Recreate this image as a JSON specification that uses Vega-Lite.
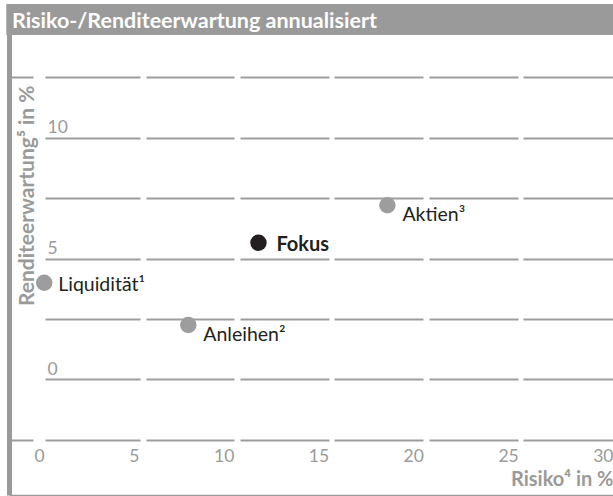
{
  "$schema": "https://vega.github.io/schema/vega-lite/v6.json",
  "width": 604,
  "height": 491,
  "padding": {"left": 9, "top": 4, "right": 0, "bottom": 1},
  "autosize": {"type": "none"},
  "background": "white",
  "config": {"view": {"stroke": null}, "font": "Lato"},
  "data": {"values": [
    {"name": "Liquidität¹", "risk": 0, "ret": 4.0, "group": "Anlageklasse"},
    {"name": "Anleihen²", "risk": 7.6, "ret": 2.25, "group": "Anlageklasse"},
    {"name": "Fokus", "risk": 11.3, "ret": 5.65, "group": "Portfolio"},
    {"name": "Aktien³", "risk": 18.1, "ret": 7.2, "group": "Anlageklasse"}
  ]},
  "layer": [
    {
      "mark": {"type": "circle", "size": 270, "opacity": 1},
      "encoding": {
        "x": {
          "field": "risk", "type": "quantitative",
          "scale": {"domain": [-1.857, 30], "nice": false, "zero": false},
          "axis": {
            "title": "Risiko⁴ in %",
            "values": [0, 5, 10, 15, 20, 25, 30],
            "format": "d",
            "grid": false, "ticks": false,
            "domainColor": "#9a9a9a", "domainWidth": 1.5,
            "labelColor": "#9a9a9a", "labelFontSize": 17.5, "labelFont": "Lato",
            "labelAlign": "right", "labelBaseline": "alphabetic", "labelPadding": -34,
            "labelFlush": false, "labelOverlap": false, "labelBound": false,
            "titleColor": "#9a9a9a", "titleFontSize": 20, "titleFontWeight": "bold", "titleFont": "Lato",
            "titleAnchor": "end", "titleAlign": "right", "titleBaseline": "alphabetic",
            "titleX": 604, "titleY": -10
          }
        },
        "y": {
          "field": "ret", "type": "quantitative",
          "scale": {"domain": [-4.773, 15.517], "nice": false, "zero": false},
          "axis": {
            "title": "Renditeerwartung⁵ in %",
            "values": [-2.5, 0, 2.5, 5, 7.5, 10, 12.5],
            "ticks": false, "grid": true,
            "gridColor": "#9d9d9d", "gridWidth": 2,
            "gridDash": {"condition": {"test": "datum.value == 12.5 || datum.value == -2.5", "value": [24, 12, 95, 6, 88, 6, 89, 5, 89, 6, 89, 5, 200, 0]}, "value": [0, 36, 95, 6, 88, 6, 89, 5, 89, 6, 89, 5, 200, 0]},
            "domainColor": "#9a9a9a", "domainWidth": 5,
            "labelExpr": "datum.value == 0 || datum.value == 5 || datum.value == 10 ? format(datum.value, 'd') : ''",
            "labelAlign": "left", "labelBaseline": "alphabetic", "labelPadding": -38, "labelOffset": -5,
            "labelColor": "#9a9a9a", "labelFontSize": 17.5, "labelFont": "Lato",
            "labelOverlap": false, "labelBound": false, "labelFlush": false,
            "titleColor": "#9a9a9a", "titleFontSize": 21, "titleFontWeight": "bold", "titleFont": "Lato",
            "titleAngle": 270, "titleAlign": "right", "titleBaseline": "alphabetic",
            "titleX": 24, "titleY": 81
          }
        },
        "color": {"field": "group", "type": "nominal", "scale": {"domain": ["Anlageklasse", "Portfolio"], "range": ["#9d9d9d", "#231f20"]}, "legend": null}
      }
    },
    {
      "data": {"values": [{"t": "Risiko-/Renditeerwartung annualisiert"}]},
      "mark": {"type": "rect", "color": "#9a9a9a"},
      "encoding": {
        "x": {"datum": -2.0, "type": "quantitative"},
        "x2": {"datum": 30},
        "y": {"datum": 15.517, "type": "quantitative"},
        "y2": {"datum": 14.236}
      }
    },
    {
      "data": {"values": [{"t": "Risiko-/Renditeerwartung annualisiert"}]},
      "mark": {"type": "text", "color": "white", "fontSize": 21.5, "fontWeight": "bold", "align": "left", "baseline": "alphabetic", "font": "Lato"},
      "encoding": {
        "x": {"datum": -1.7, "type": "quantitative"},
        "y": {"datum": 14.524, "type": "quantitative"},
        "text": {"field": "t"}
      }
    },
    {
      "transform": [{"filter": "datum.group == 'Portfolio'"}],
      "mark": {"type": "text", "align": "left", "baseline": "alphabetic", "dx": 18, "dy": 8, "fontSize": 20, "fontWeight": "bold", "color": "#231f20", "font": "Lato"},
      "encoding": {
        "x": {"field": "risk", "type": "quantitative"},
        "y": {"field": "ret", "type": "quantitative"},
        "text": {"field": "name"}
      }
    },
    {
      "transform": [{"filter": "datum.name == 'Liquidität¹'"}],
      "mark": {"type": "text", "align": "left", "baseline": "alphabetic", "dx": 14, "dy": 8, "fontSize": 19.5, "color": "#231f20", "font": "Lato"},
      "encoding": {
        "x": {"field": "risk", "type": "quantitative"},
        "y": {"field": "ret", "type": "quantitative"},
        "text": {"field": "name"}
      }
    },
    {
      "transform": [{"filter": "datum.name == 'Anleihen²' || datum.name == 'Aktien³'"}],
      "mark": {"type": "text", "align": "left", "baseline": "alphabetic", "dx": 15, "dy": 15.5, "fontSize": 19.5, "color": "#231f20", "font": "Lato"},
      "encoding": {
        "x": {"field": "risk", "type": "quantitative"},
        "y": {"field": "ret", "type": "quantitative"},
        "text": {"field": "name"}
      }
    }
  ]
}
